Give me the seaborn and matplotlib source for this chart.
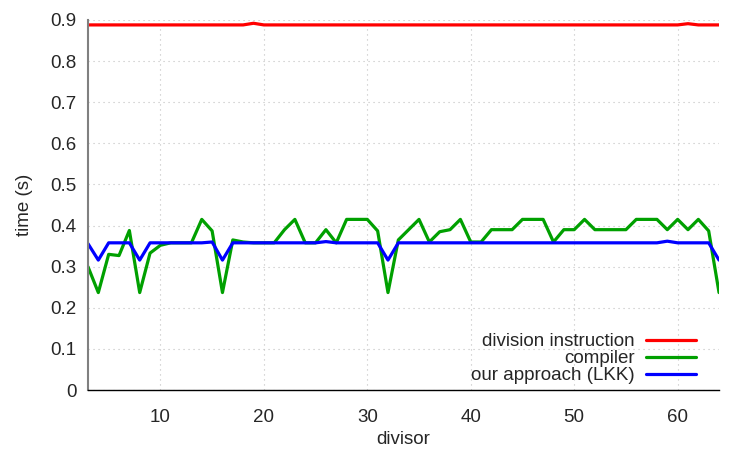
import numpy as np
import pandas as pd
import matplotlib
matplotlib.use("Agg")
import matplotlib.pyplot as plt
import seaborn as sns

divisors = list(range(3, 65))

division_instruction = [0.888] * 62
division_instruction[19 - 3] = 0.892
division_instruction[61 - 3] = 0.891

compiler = [
    0.300, 0.237, 0.330, 0.327, 0.388, 0.237, 0.333, 0.352, 0.358, 0.358,  # 3-12
    0.358, 0.415, 0.387, 0.237, 0.365, 0.360, 0.358, 0.358, 0.358, 0.390,  # 13-22
    0.415, 0.358, 0.358, 0.390, 0.358, 0.415, 0.415, 0.415, 0.387, 0.237,  # 23-32
    0.365, 0.390, 0.415, 0.360, 0.385, 0.390, 0.415, 0.360, 0.360, 0.390,  # 33-42
    0.390, 0.390, 0.415, 0.415, 0.415, 0.360, 0.390, 0.390, 0.415, 0.390,  # 43-52
    0.390, 0.390, 0.390, 0.415, 0.415, 0.415, 0.390, 0.415, 0.390, 0.415,  # 53-62
    0.387, 0.237,                                                          # 63-64
]

lkk = [0.358] * 62
lkk[3 - 3] = 0.356
for d in (4, 8, 16, 32, 64):
    lkk[d - 3] = 0.316
lkk[15 - 3] = 0.360
lkk[26 - 3] = 0.361
lkk[59 - 3] = 0.362

series_names = ["division instruction", "compiler", "our approach (LKK)"]
colors = ["#ff0000", "#00a000", "#0000ff"]

df = pd.DataFrame({
    "divisor": divisors * 3,
    "time": division_instruction + compiler + lkk,
    "series": [series_names[0]] * 62 + [series_names[1]] * 62 + [series_names[2]] * 62,
})

sns.set_style("white")
plt.rcParams["font.family"] = ["Liberation Sans", "DejaVu Sans"]
FS = 13.5
plt.rcParams["font.size"] = FS

fig = plt.figure(figsize=(7.5, 4.5), dpi=100)
ax = fig.add_axes([0.1173, 0.1333, 0.8414, 0.8223])

sns.lineplot(data=df, x="divisor", y="time", hue="series", hue_order=series_names,
             palette=colors, linewidth=2.3, ax=ax, estimator=None, sort=False)

ax.set_xlim(3, 64)
ax.set_ylim(0, 0.9)
ax.set_xticks([10, 20, 30, 40, 50, 60])
ax.set_yticks(np.arange(0, 0.91, 0.1))
ax.set_yticklabels(["0", "0.1", "0.2", "0.3", "0.4", "0.5", "0.6", "0.7", "0.8", "0.9"])
ax.set_xlabel("divisor", fontsize=FS, labelpad=3)
ax.set_ylabel("time (s)", fontsize=FS, labelpad=13)

ax.grid(True, linestyle=(0, (1, 3.5)), color="#c0c0c0", linewidth=0.8)
ax.set_axisbelow(True)
for s in ("top", "right"):
    ax.spines[s].set_visible(False)
ax.spines["left"].set_color("#808080")
ax.spines["left"].set_linewidth(1.5)
ax.spines["bottom"].set_color("#000000")
ax.spines["bottom"].set_linewidth(1.0)
ax.tick_params(axis="both", direction="in", length=6, width=1.2, color="#808080",
               labelsize=FS)
ax.tick_params(axis="x", pad=14)
ax.tick_params(axis="y", pad=8)

ax.legend(loc="lower right", bbox_to_anchor=(1 - 17 / 631, 0.0), markerfirst=False,
          frameon=False, fontsize=FS, handlelength=2.7, labelspacing=0.0,
          borderaxespad=0.0, borderpad=0.3, handletextpad=0.6)

fig.savefig("out.png", dpi=100)
